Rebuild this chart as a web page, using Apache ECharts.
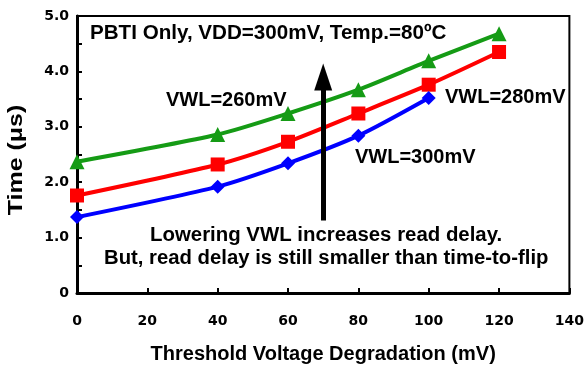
<!DOCTYPE html>
<html><head><meta charset="utf-8">
<script src="https://cdn.jsdelivr.net/npm/echarts@6/dist/echarts.min.js"></script>
<style>html,body{margin:0;padding:0;background:#fff}#c{width:587px;height:369px}</style>
</head><body><div id="c"></div>
<script>
const xValues = [0, 40, 60, 80, 100, 120];
const vwl260 = [2.37, 2.86, 3.24, 3.67, 4.19, 4.68];
const vwl280 = [1.76, 2.32, 2.73, 3.24, 3.76, 4.35];
const vwl300 = [1.37, 1.92, 2.34, 2.84, 3.52];
const seriesNames = ['VWL=260mV', 'VWL=280mV', 'VWL=300mV'];
const arrowX = 70, arrowFrom = 1.31, arrowTo = 3.9;

const F = '"Liberation Sans", Arial, sans-serif';
const T = '"DejaVu Sans", sans-serif';
const pair = (ys) => ys.map((y, i) => [xValues[i], y]);
const chart = echarts.init(document.getElementById('c'));
const txt = (x, y, s, size, sx) => ({
  type: 'text', x: x, y: y, scaleX: sx || 1,
  style: { text: s, font: 'bold ' + size + 'px ' + F, fill: '#000', textAlign: 'left', textVerticalAlign: 'middle' }
});
chart.setOption({
  animation: false,
  grid: { left: 77, right: 13, top: 16, bottom: 74, show: true, borderColor: '#000', borderWidth: 2 },
  xAxis: {
    type: 'value', min: 0, max: 140, interval: 20,
    name: 'Threshold Voltage Degradation (mV)', nameLocation: 'middle', nameGap: 51,
    nameTextStyle: { fontFamily: F, fontWeight: 'bold', fontSize: 20, color: '#000' },
    axisLine: { lineStyle: { color: '#000', width: 3 } },
    axisTick: { inside: true, length: 5, lineStyle: { color: '#000', width: 2 } },
    axisLabel: { margin: 21, fontFamily: T, fontWeight: 'bold', fontSize: 14, color: '#000' },
    splitLine: { show: false }
  },
  yAxis: {
    type: 'value', min: 0, max: 5, interval: 0.5,
    axisLine: { lineStyle: { color: '#000', width: 3 } },
    axisTick: { inside: true, length: 5, lineStyle: { color: '#000', width: 2 } },
    axisLabel: { margin: 8, fontFamily: T, fontWeight: 'bold', fontSize: 14, color: '#000',
      formatter: v => v === 0 ? '0' : (Math.abs(v % 1) < 1e-9 ? v.toFixed(1) : '') },
    splitLine: { show: false }
  },
  series: [
    { name: seriesNames[0], type: 'line', data: pair(vwl260), smooth: 0.25, symbol: 'triangle', symbolSize: 15,
      itemStyle: { color: '#159b15' }, lineStyle: { color: '#159b15', width: 4 } },
    { name: seriesNames[1], type: 'line', data: pair(vwl280), smooth: 0.25, symbol: 'rect', symbolSize: 14,
      itemStyle: { color: '#ff0000' }, lineStyle: { color: '#ff0000', width: 4 } },
    { name: seriesNames[2], type: 'line', data: pair(vwl300), smooth: 0.25, symbol: 'diamond', symbolSize: 14,
      itemStyle: { color: '#0000ff' }, lineStyle: { color: '#0000ff', width: 4 },
      markLine: { silent: true, symbol: ['none', 'triangle'], symbolSize: [18, 27], label: { show: false },
        lineStyle: { color: '#000', width: 5, type: 'solid' },
        data: [[{ coord: [arrowX, arrowFrom] }, { coord: [arrowX, arrowTo] }]] } }
  ],
  graphic: [
    txt(90, 33, 'PBTI Only, VDD=300mV, Temp.=80ºC', 20, 1.03),
    txt(166, 100, seriesNames[0], 20, 1.0),
    txt(445, 97, seriesNames[1], 20, 1.0),
    txt(355, 157, seriesNames[2], 20, 1.0),
    txt(150, 235, 'Lowering VWL increases read delay.', 20, 1.02),
    txt(104, 258, 'But, read delay is still smaller than time-to-flip', 20, 1.015),
    { type: 'text', x: 16, y: 160, rotation: Math.PI / 2, scaleX: 1.25,
      style: { text: 'Time (μs)', font: 'bold 20px ' + F, fill: '#000', textAlign: 'center', textVerticalAlign: 'middle' } }
  ]
});
</script></body></html>
